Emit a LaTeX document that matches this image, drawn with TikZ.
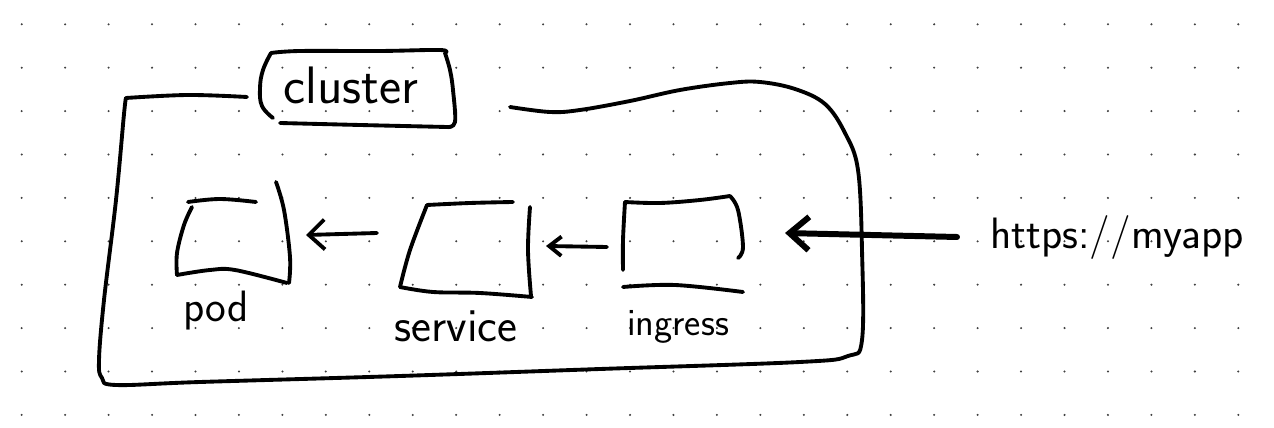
\documentclass[tikz,border=0pt]{standalone}
\usetikzlibrary{arrows.meta}
\begin{document}
\begin{tikzpicture}[x=0.02cm,y=-0.02cm,
  pen/.style={line width=2.2pt,line cap=round,line join=round,black},
  thickpen/.style={line width=3.4pt,line cap=round,line join=round,black},
  hand/.style={font=\sffamily,inner sep=0pt,black},
  dotc/.style={fill=black!75}]
\useasboundingbox (0,0) rectangle (1274,428);
\fill[white] (0,0) rectangle (1274,428);
% dot grid
\foreach \i in {0,...,28}{
  \foreach \j in {0,...,9}{
    \fill[dotc] (21.7+43.45*\i,24.3+43.4*\j) circle[radius=0.65pt];
  }
}
% cluster outline
\draw[pen] plot[smooth,tension=0.6] coordinates {(247,97) (188,95) (126,98)};
\draw[pen] plot[smooth,tension=0.6] coordinates {(126,98) (124,114) (116,200) (104,300) (99,360) (102,378) (116,385) (200,382) (400,376) (600,369) (800,362) (848,356) (862,340) (862,250) (858,170) (845,133) (825,104) (795,89) (760,82) (730,83) (680,90) (630,101) (580,110) (550,112) (510,107)};
% cluster label box
\draw[pen] plot[smooth,tension=0.7] coordinates {(271,53) (263,70) (260,88) (262,106) (273,118)};
\draw[pen] plot[smooth,tension=0.6] coordinates {(271,53) (300,51) (380,51) (440,50) (445,53)};
\draw[pen] plot[smooth,tension=0.6] coordinates {(445,53) (450,70) (453,90) (455,122) (447,127)};
\draw[pen] plot[smooth,tension=0.6] coordinates {(280,123) (360,125) (447,127)};
\node[hand,font=\sffamily\fontsize{30}{34}\selectfont] (clusterlbl) at (351,85) {cluster};
% pod
\draw[pen] plot[smooth,tension=0.6] coordinates {(188,202) (220,199) (256,202)};
\draw[pen] plot[smooth,tension=0.6] coordinates {(192,207) (184,225) (177,253) (177,275)};
\draw[pen] plot[smooth,tension=0.6] coordinates {(177,275) (210,270) (235,270) (287,283)};
\draw[pen] plot[smooth,tension=0.6] coordinates {(276,182) (284,210) (290,257) (289,283)};
\coordinate (pod) at (306,235);
\node[hand,font=\sffamily\fontsize{25}{28}\selectfont] (podlbl) at (216,311) {pod};
% service
\draw[pen] plot[smooth,tension=0.6] coordinates {(427,205) (470,203) (513,202)};
\draw[pen] plot[smooth,tension=0.6] coordinates {(427,205) (410,250) (400,287)};
\draw[pen] plot[smooth,tension=0.6] coordinates {(400,287) (433,292) (480,293) (532,297)};
\draw[pen] plot[smooth,tension=0.6] coordinates {(530,207) (528,250) (531,296)};
\coordinate (serviceR) at (377,233);
\coordinate (serviceL) at (546,246);
\node[hand,font=\sffamily\fontsize{27}{30}\selectfont] (svclbl) at (456,326) {service};
% ingress
\draw[pen] plot[smooth,tension=0.6] coordinates {(625,202) (660,203) (700,200) (730,196)};
\draw[pen] plot[smooth,tension=0.6] coordinates {(730,196) (738,210) (743,247) (738,258)};
\draw[pen] plot[smooth,tension=0.6] coordinates {(625,202) (623,240) (623,270)};
\draw[pen] plot[smooth,tension=0.6] coordinates {(623,287) (675,285) (743,292)};
\coordinate (ingressL) at (607,247);
\coordinate (ingressR) at (785,233);
\node[hand,font=\sffamily\fontsize{22}{25}\selectfont] (inglbl) at (678,327) {ingress};
% url
\node[hand,font=\sffamily\fontsize{25}{29}\selectfont] (url) at (1117,238) {https://myapp};
\coordinate (urlL) at (957,237);
% arrows
\draw[pen,-{Straight Barb[length=9pt,width=17pt]}] (serviceR) -- (pod);
\draw[pen,-{Straight Barb[length=7pt,width=11pt]}] (ingressL) -- (serviceL);
\draw[thickpen,-{Straight Barb[length=11pt,width=19pt]}] (urlL) -- (ingressR);
\end{tikzpicture}
\end{document}
